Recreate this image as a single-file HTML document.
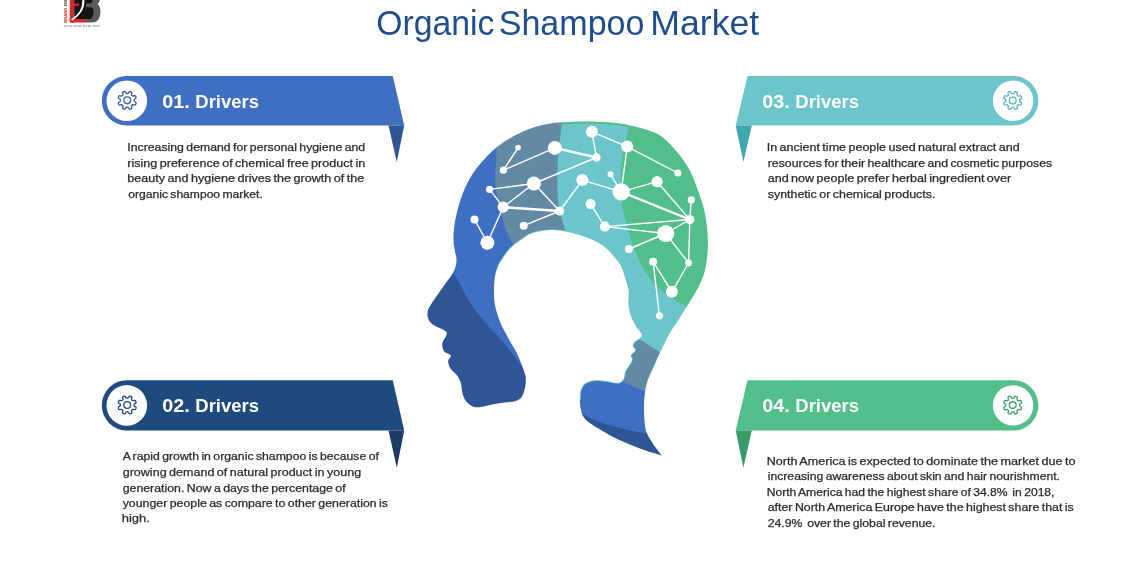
<!DOCTYPE html>
<html><head><meta charset="utf-8"><style>
html,body{margin:0;padding:0;background:#fff;}
body{width:1140px;height:570px;overflow:hidden;position:relative;}
svg{position:absolute;left:0;top:0;will-change:transform;}
text{font-family:"Liberation Sans",sans-serif;}
</style></head><body>
<svg width="1140" height="570" viewBox="0 0 1140 570">
<g>
<rect x="69.7" y="0" width="4.6" height="22.6" fill="#D42A2A"/>
<path d="M74.2,0 H94 V19 H74.2 Z" fill="#141414"/>
<rect x="74" y="3.6" width="5.2" height="2.2" fill="#D42A2A"/>
<path d="M69.7,18.9 H86 V22.6 H72 Q69.7,22.6 69.7,20.5 Z" fill="#D42A2A"/>
<path d="M86,18.9 H92 Q98,18.6 98.5,11 Q98.6,5 95,3.8 Q98,2 98,0 H92.5 Q93,2.5 90.5,3.6 H86 V7.2 H91 Q93.6,8 93.6,12 Q93,18 90,18.9 Z" fill="#5a5a5a"/>
<path d="M86,18.9 V22.6 H92 Q100.5,22.3 100.5,11.5 Q100.2,5.5 97.5,4 Q99.8,2 99.8,0 H95 Q95,2.5 92,3.6 Q97,5 96.7,11.5 Q96.5,18.6 91.5,18.9 Z" fill="#5a5a5a"/>
<path d="M82.3,0 Q83,12 71,19.5 L72.5,20.5 Q85.2,12 84.6,0 Z" fill="#fff"/>
<text x="0" y="0" font-size="3.6" fill="#D42A2A" font-weight="bold" transform="translate(67.3,22.8) rotate(-90)" textLength="15" lengthAdjust="spacingAndGlyphs">BRAND</text>
<text x="0" y="0" font-size="3.6" fill="#222" font-weight="bold" transform="translate(67.3,6.2) rotate(-90)" textLength="6.2" lengthAdjust="spacingAndGlyphs">ESS</text>
<line x1="63.8" y1="26" x2="99.6" y2="26" stroke="#6a6a6a" stroke-width="0.9" stroke-dasharray="2.2,0.6,1.4,0.8,3,1.6"/>
</g>
<path d="M126.55,76.00 H392.8 L404.2,125.50 H126.55 A24.75,24.75 0 0 1 126.55,76.00 Z" fill="#3F6FC3"/>
<path d="M388.5,125.50 L404.2,125.50 L396.8,161.90 Z" fill="#2F5597"/>
<circle cx="126.8" cy="100.75" r="20.3" fill="#fff"/>
<path d="M134.05,100.35 L134.05,100.62 L134.07,100.89 L134.15,101.17 L134.45,101.50 L135.14,101.93 L135.81,102.42 L136.06,102.85 L136.05,103.23 L135.97,103.58 L135.84,103.93 L135.68,104.26 L135.50,104.58 L135.23,104.85 L134.75,104.98 L133.93,104.85 L133.14,104.67 L132.70,104.68 L132.44,104.82 L132.24,105.00 L132.04,105.19 L131.85,105.39 L131.67,105.59 L131.53,105.85 L131.52,106.29 L131.70,107.08 L131.83,107.90 L131.70,108.38 L131.43,108.65 L131.11,108.83 L130.78,108.99 L130.43,109.12 L130.08,109.20 L129.70,109.21 L129.27,108.96 L128.78,108.29 L128.35,107.60 L128.02,107.30 L127.74,107.22 L127.47,107.20 L127.20,107.20 L126.93,107.20 L126.66,107.22 L126.38,107.30 L126.05,107.60 L125.62,108.29 L125.13,108.96 L124.70,109.21 L124.32,109.20 L123.97,109.12 L123.62,108.99 L123.29,108.83 L122.97,108.65 L122.70,108.38 L122.57,107.90 L122.70,107.08 L122.88,106.29 L122.87,105.85 L122.73,105.59 L122.55,105.39 L122.36,105.19 L122.16,105.00 L121.96,104.82 L121.70,104.68 L121.26,104.67 L120.47,104.85 L119.65,104.98 L119.17,104.85 L118.90,104.58 L118.72,104.26 L118.56,103.93 L118.43,103.58 L118.35,103.23 L118.34,102.85 L118.59,102.42 L119.26,101.93 L119.95,101.50 L120.25,101.17 L120.33,100.89 L120.35,100.62 L120.35,100.35 L120.35,100.08 L120.33,99.81 L120.25,99.53 L119.95,99.20 L119.26,98.77 L118.59,98.28 L118.34,97.85 L118.35,97.47 L118.43,97.12 L118.56,96.77 L118.72,96.44 L118.90,96.12 L119.17,95.85 L119.65,95.72 L120.47,95.85 L121.26,96.03 L121.70,96.02 L121.96,95.88 L122.16,95.70 L122.36,95.51 L122.55,95.31 L122.73,95.11 L122.87,94.85 L122.88,94.41 L122.70,93.62 L122.57,92.80 L122.70,92.32 L122.97,92.05 L123.29,91.87 L123.62,91.71 L123.97,91.58 L124.32,91.50 L124.70,91.49 L125.13,91.74 L125.62,92.41 L126.05,93.10 L126.38,93.40 L126.66,93.48 L126.93,93.50 L127.20,93.50 L127.47,93.50 L127.74,93.48 L128.02,93.40 L128.35,93.10 L128.78,92.41 L129.27,91.74 L129.70,91.49 L130.08,91.50 L130.43,91.58 L130.78,91.71 L131.11,91.87 L131.43,92.05 L131.70,92.32 L131.83,92.80 L131.70,93.62 L131.52,94.41 L131.53,94.85 L131.67,95.11 L131.85,95.31 L132.04,95.51 L132.24,95.70 L132.44,95.88 L132.70,96.02 L133.14,96.03 L133.93,95.85 L134.75,95.72 L135.23,95.85 L135.50,96.12 L135.68,96.44 L135.84,96.77 L135.97,97.12 L136.05,97.47 L136.06,97.85 L135.81,98.28 L135.14,98.77 L134.45,99.20 L134.15,99.53 L134.07,99.81 L134.05,100.08 Z" fill="none" stroke="#3A5F9F" stroke-width="1.35" stroke-linejoin="round"/><circle cx="127.2" cy="100.3" r="3.4" fill="none" stroke="#3A5F9F" stroke-width="1.35"/>
<path d="M127.00,380.20 H392.8 L404.2,430.60 H127.00 A25.20,25.20 0 0 1 127.00,380.20 Z" fill="#1F4A7D"/>
<path d="M388.5,430.60 L404.2,430.60 L396.8,467.80 Z" fill="#1B3A66"/>
<circle cx="126.8" cy="405.40" r="20.3" fill="#fff"/>
<path d="M134.05,405.00 L134.05,405.27 L134.07,405.54 L134.15,405.82 L134.45,406.15 L135.14,406.58 L135.81,407.07 L136.06,407.50 L136.05,407.88 L135.97,408.23 L135.84,408.58 L135.68,408.91 L135.50,409.23 L135.23,409.50 L134.75,409.63 L133.93,409.50 L133.14,409.32 L132.70,409.33 L132.44,409.47 L132.24,409.65 L132.04,409.84 L131.85,410.04 L131.67,410.24 L131.53,410.50 L131.52,410.94 L131.70,411.73 L131.83,412.55 L131.70,413.03 L131.43,413.30 L131.11,413.48 L130.78,413.64 L130.43,413.77 L130.08,413.85 L129.70,413.86 L129.27,413.61 L128.78,412.94 L128.35,412.25 L128.02,411.95 L127.74,411.87 L127.47,411.85 L127.20,411.85 L126.93,411.85 L126.66,411.87 L126.38,411.95 L126.05,412.25 L125.62,412.94 L125.13,413.61 L124.70,413.86 L124.32,413.85 L123.97,413.77 L123.62,413.64 L123.29,413.48 L122.97,413.30 L122.70,413.03 L122.57,412.55 L122.70,411.73 L122.88,410.94 L122.87,410.50 L122.73,410.24 L122.55,410.04 L122.36,409.84 L122.16,409.65 L121.96,409.47 L121.70,409.33 L121.26,409.32 L120.47,409.50 L119.65,409.63 L119.17,409.50 L118.90,409.23 L118.72,408.91 L118.56,408.58 L118.43,408.23 L118.35,407.88 L118.34,407.50 L118.59,407.07 L119.26,406.58 L119.95,406.15 L120.25,405.82 L120.33,405.54 L120.35,405.27 L120.35,405.00 L120.35,404.73 L120.33,404.46 L120.25,404.18 L119.95,403.85 L119.26,403.42 L118.59,402.93 L118.34,402.50 L118.35,402.12 L118.43,401.77 L118.56,401.42 L118.72,401.09 L118.90,400.77 L119.17,400.50 L119.65,400.37 L120.47,400.50 L121.26,400.68 L121.70,400.67 L121.96,400.53 L122.16,400.35 L122.36,400.16 L122.55,399.96 L122.73,399.76 L122.87,399.50 L122.88,399.06 L122.70,398.27 L122.57,397.45 L122.70,396.97 L122.97,396.70 L123.29,396.52 L123.62,396.36 L123.97,396.23 L124.32,396.15 L124.70,396.14 L125.13,396.39 L125.62,397.06 L126.05,397.75 L126.38,398.05 L126.66,398.13 L126.93,398.15 L127.20,398.15 L127.47,398.15 L127.74,398.13 L128.02,398.05 L128.35,397.75 L128.78,397.06 L129.27,396.39 L129.70,396.14 L130.08,396.15 L130.43,396.23 L130.78,396.36 L131.11,396.52 L131.43,396.70 L131.70,396.97 L131.83,397.45 L131.70,398.27 L131.52,399.06 L131.53,399.50 L131.67,399.76 L131.85,399.96 L132.04,400.16 L132.24,400.35 L132.44,400.53 L132.70,400.67 L133.14,400.68 L133.93,400.50 L134.75,400.37 L135.23,400.50 L135.50,400.77 L135.68,401.09 L135.84,401.42 L135.97,401.77 L136.05,402.12 L136.06,402.50 L135.81,402.93 L135.14,403.42 L134.45,403.85 L134.15,404.18 L134.07,404.46 L134.05,404.73 Z" fill="none" stroke="#23497F" stroke-width="1.35" stroke-linejoin="round"/><circle cx="127.2" cy="405.0" r="3.4" fill="none" stroke="#23497F" stroke-width="1.35"/>
<path d="M747.5,76.00 H1013.65 A24.75,24.75 0 0 1 1013.65,125.50 H735.7 Z" fill="#6CC5CB"/>
<path d="M735.7,125.50 L751.8,125.50 L743.4,162.10 Z" fill="#3DA7B0"/>
<circle cx="1013.1" cy="100.75" r="20.2" fill="#fff"/>
<path d="M1019.55,100.45 L1019.55,100.72 L1019.57,100.99 L1019.65,101.27 L1019.95,101.60 L1020.64,102.03 L1021.31,102.52 L1021.56,102.95 L1021.55,103.33 L1021.47,103.68 L1021.34,104.03 L1021.18,104.36 L1021.00,104.68 L1020.73,104.95 L1020.25,105.08 L1019.43,104.95 L1018.64,104.77 L1018.20,104.78 L1017.94,104.92 L1017.74,105.10 L1017.54,105.29 L1017.35,105.49 L1017.17,105.69 L1017.03,105.95 L1017.02,106.39 L1017.20,107.18 L1017.33,108.00 L1017.20,108.48 L1016.93,108.75 L1016.61,108.93 L1016.28,109.09 L1015.93,109.22 L1015.58,109.30 L1015.20,109.31 L1014.77,109.06 L1014.28,108.39 L1013.85,107.70 L1013.52,107.40 L1013.24,107.32 L1012.97,107.30 L1012.70,107.30 L1012.43,107.30 L1012.16,107.32 L1011.88,107.40 L1011.55,107.70 L1011.12,108.39 L1010.63,109.06 L1010.20,109.31 L1009.82,109.30 L1009.47,109.22 L1009.12,109.09 L1008.79,108.93 L1008.47,108.75 L1008.20,108.48 L1008.07,108.00 L1008.20,107.18 L1008.38,106.39 L1008.37,105.95 L1008.23,105.69 L1008.05,105.49 L1007.86,105.29 L1007.66,105.10 L1007.46,104.92 L1007.20,104.78 L1006.76,104.77 L1005.97,104.95 L1005.15,105.08 L1004.67,104.95 L1004.40,104.68 L1004.22,104.36 L1004.06,104.03 L1003.93,103.68 L1003.85,103.33 L1003.84,102.95 L1004.09,102.52 L1004.76,102.03 L1005.45,101.60 L1005.75,101.27 L1005.83,100.99 L1005.85,100.72 L1005.85,100.45 L1005.85,100.18 L1005.83,99.91 L1005.75,99.63 L1005.45,99.30 L1004.76,98.87 L1004.09,98.38 L1003.84,97.95 L1003.85,97.57 L1003.93,97.22 L1004.06,96.87 L1004.22,96.54 L1004.40,96.22 L1004.67,95.95 L1005.15,95.82 L1005.97,95.95 L1006.76,96.13 L1007.20,96.12 L1007.46,95.98 L1007.66,95.80 L1007.86,95.61 L1008.05,95.41 L1008.23,95.21 L1008.37,94.95 L1008.38,94.51 L1008.20,93.72 L1008.07,92.90 L1008.20,92.42 L1008.47,92.15 L1008.79,91.97 L1009.12,91.81 L1009.47,91.68 L1009.82,91.60 L1010.20,91.59 L1010.63,91.84 L1011.12,92.51 L1011.55,93.20 L1011.88,93.50 L1012.16,93.58 L1012.43,93.60 L1012.70,93.60 L1012.97,93.60 L1013.24,93.58 L1013.52,93.50 L1013.85,93.20 L1014.28,92.51 L1014.77,91.84 L1015.20,91.59 L1015.58,91.60 L1015.93,91.68 L1016.28,91.81 L1016.61,91.97 L1016.93,92.15 L1017.20,92.42 L1017.33,92.90 L1017.20,93.72 L1017.02,94.51 L1017.03,94.95 L1017.17,95.21 L1017.35,95.41 L1017.54,95.61 L1017.74,95.80 L1017.94,95.98 L1018.20,96.12 L1018.64,96.13 L1019.43,95.95 L1020.25,95.82 L1020.73,95.95 L1021.00,96.22 L1021.18,96.54 L1021.34,96.87 L1021.47,97.22 L1021.55,97.57 L1021.56,97.95 L1021.31,98.38 L1020.64,98.87 L1019.95,99.30 L1019.65,99.63 L1019.57,99.91 L1019.55,100.18 Z" fill="none" stroke="#5BB7BF" stroke-width="1.35" stroke-linejoin="round"/><circle cx="1012.7" cy="100.5" r="3.4" fill="none" stroke="#5BB7BF" stroke-width="1.35"/>
<path d="M747.5,380.20 H1013.20 A25.20,25.20 0 0 1 1013.20,430.60 H735.7 Z" fill="#52BE89"/>
<path d="M735.7,430.60 L751.8,430.60 L743.4,467.80 Z" fill="#3A9A6A"/>
<circle cx="1013.1" cy="405.40" r="20.2" fill="#fff"/>
<path d="M1019.55,405.10 L1019.55,405.37 L1019.57,405.64 L1019.65,405.92 L1019.95,406.25 L1020.64,406.68 L1021.31,407.17 L1021.56,407.60 L1021.55,407.98 L1021.47,408.33 L1021.34,408.68 L1021.18,409.01 L1021.00,409.33 L1020.73,409.60 L1020.25,409.73 L1019.43,409.60 L1018.64,409.42 L1018.20,409.43 L1017.94,409.57 L1017.74,409.75 L1017.54,409.94 L1017.35,410.14 L1017.17,410.34 L1017.03,410.60 L1017.02,411.04 L1017.20,411.83 L1017.33,412.65 L1017.20,413.13 L1016.93,413.40 L1016.61,413.58 L1016.28,413.74 L1015.93,413.87 L1015.58,413.95 L1015.20,413.96 L1014.77,413.71 L1014.28,413.04 L1013.85,412.35 L1013.52,412.05 L1013.24,411.97 L1012.97,411.95 L1012.70,411.95 L1012.43,411.95 L1012.16,411.97 L1011.88,412.05 L1011.55,412.35 L1011.12,413.04 L1010.63,413.71 L1010.20,413.96 L1009.82,413.95 L1009.47,413.87 L1009.12,413.74 L1008.79,413.58 L1008.47,413.40 L1008.20,413.13 L1008.07,412.65 L1008.20,411.83 L1008.38,411.04 L1008.37,410.60 L1008.23,410.34 L1008.05,410.14 L1007.86,409.94 L1007.66,409.75 L1007.46,409.57 L1007.20,409.43 L1006.76,409.42 L1005.97,409.60 L1005.15,409.73 L1004.67,409.60 L1004.40,409.33 L1004.22,409.01 L1004.06,408.68 L1003.93,408.33 L1003.85,407.98 L1003.84,407.60 L1004.09,407.17 L1004.76,406.68 L1005.45,406.25 L1005.75,405.92 L1005.83,405.64 L1005.85,405.37 L1005.85,405.10 L1005.85,404.83 L1005.83,404.56 L1005.75,404.28 L1005.45,403.95 L1004.76,403.52 L1004.09,403.03 L1003.84,402.60 L1003.85,402.22 L1003.93,401.87 L1004.06,401.52 L1004.22,401.19 L1004.40,400.87 L1004.67,400.60 L1005.15,400.47 L1005.97,400.60 L1006.76,400.78 L1007.20,400.77 L1007.46,400.63 L1007.66,400.45 L1007.86,400.26 L1008.05,400.06 L1008.23,399.86 L1008.37,399.60 L1008.38,399.16 L1008.20,398.37 L1008.07,397.55 L1008.20,397.07 L1008.47,396.80 L1008.79,396.62 L1009.12,396.46 L1009.47,396.33 L1009.82,396.25 L1010.20,396.24 L1010.63,396.49 L1011.12,397.16 L1011.55,397.85 L1011.88,398.15 L1012.16,398.23 L1012.43,398.25 L1012.70,398.25 L1012.97,398.25 L1013.24,398.23 L1013.52,398.15 L1013.85,397.85 L1014.28,397.16 L1014.77,396.49 L1015.20,396.24 L1015.58,396.25 L1015.93,396.33 L1016.28,396.46 L1016.61,396.62 L1016.93,396.80 L1017.20,397.07 L1017.33,397.55 L1017.20,398.37 L1017.02,399.16 L1017.03,399.60 L1017.17,399.86 L1017.35,400.06 L1017.54,400.26 L1017.74,400.45 L1017.94,400.63 L1018.20,400.77 L1018.64,400.78 L1019.43,400.60 L1020.25,400.47 L1020.73,400.60 L1021.00,400.87 L1021.18,401.19 L1021.34,401.52 L1021.47,401.87 L1021.55,402.22 L1021.56,402.60 L1021.31,403.03 L1020.64,403.52 L1019.95,403.95 L1019.65,404.28 L1019.57,404.56 L1019.55,404.83 Z" fill="none" stroke="#3E9F6F" stroke-width="1.35" stroke-linejoin="round"/><circle cx="1012.7" cy="405.1" r="3.4" fill="none" stroke="#3E9F6F" stroke-width="1.35"/>
<mask id="hc" maskUnits="userSpaceOnUse" x="0" y="0" width="1140" height="570"><path d="M525.8,376.2 C525.7,377.9 526.0,383.1 525.3,386.5 C524.6,389.9 523.5,394.3 521.8,396.8 C520.1,399.3 517.9,400.4 515.0,401.3 C512.1,402.2 508.3,402.0 504.7,402.5 C501.1,403.0 497.3,403.4 493.3,404.2 C489.3,404.9 484.2,406.6 480.8,407.0 C477.4,407.4 475.3,407.3 472.8,406.4 C470.3,405.4 467.7,403.5 466.0,401.3 C464.3,399.1 463.4,396.3 462.5,393.3 C461.6,390.3 461.8,386.1 460.8,383.1 C459.9,380.1 458.5,377.5 456.8,375.1 C455.1,372.7 451.9,370.9 450.5,368.5 C449.1,366.1 448.0,363.2 448.1,361.0 C448.2,358.8 451.6,357.0 450.9,355.4 C450.2,353.8 445.3,353.3 443.9,351.2 C442.5,349.1 442.0,345.6 442.5,342.8 C443.0,340.0 446.5,336.4 446.7,334.3 C446.9,332.2 446.2,331.7 443.9,330.1 C441.6,328.5 435.4,326.6 432.7,324.5 C430.0,322.4 428.6,320.1 427.9,317.5 C427.2,314.9 427.1,312.3 428.4,309.0 C429.7,305.7 432.7,302.0 435.5,297.8 C438.3,293.6 442.4,287.9 445.3,283.7 C448.2,279.5 451.3,276.2 453.2,272.5 C455.1,268.8 456.2,264.9 456.5,261.2 C456.8,257.4 455.2,253.5 454.7,250.0 C454.2,246.5 453.5,244.5 453.5,240.0 C453.5,235.5 453.5,230.1 454.7,223.2 C455.9,216.3 458.4,206.0 460.9,198.6 C463.4,191.2 466.2,184.8 469.5,179.0 C472.8,173.2 476.0,168.8 480.5,163.5 C485.0,158.2 490.7,152.1 496.3,147.5 C501.9,142.9 508.0,139.2 513.9,136.0 C519.8,132.8 525.6,130.2 531.4,128.2 C537.2,126.2 543.8,124.8 548.9,123.8 C554.0,122.8 556.1,122.6 562.1,122.2 C568.1,121.8 577.1,121.4 584.8,121.4 C592.5,121.4 601.1,121.7 608.5,122.3 C615.9,122.9 620.8,123.3 629.0,125.3 C637.2,127.2 649.8,129.9 657.5,134.0 C665.2,138.1 669.8,144.0 675.1,149.8 C680.4,155.7 685.3,162.4 689.1,169.1 C692.9,175.8 695.4,183.4 697.9,190.2 C700.4,197.0 702.6,203.2 704.2,210.0 C705.8,216.8 706.8,224.0 707.4,231.0 C708.0,238.0 708.1,245.0 707.6,252.0 C707.1,259.0 706.0,266.9 704.2,273.2 C702.4,279.5 699.9,284.0 696.8,290.0 C693.6,296.0 688.4,304.0 685.3,309.0 C682.2,314.0 681.1,315.8 678.4,320.0 C675.7,324.2 672.3,328.6 669.3,334.0 C666.3,339.4 662.7,347.2 660.2,352.3 C657.7,357.4 656.5,360.5 654.5,364.9 C652.5,369.3 649.7,374.7 648.2,378.9 C646.7,383.1 646.1,385.6 645.4,390.1 C644.7,394.6 644.0,399.5 644.0,406.0 C644.0,412.5 644.3,423.1 645.7,429.2 C647.1,435.3 649.8,438.5 652.5,442.9 C655.2,447.3 660.2,453.3 661.7,455.4 C658.7,454.4 649.3,451.8 643.4,449.7 C637.5,447.6 632.0,445.4 626.3,442.9 C620.6,440.4 614.9,437.9 609.2,434.9 C603.5,431.8 596.3,427.5 592.1,424.6 C587.9,421.8 586.0,420.5 584.1,417.8 C582.2,415.1 581.4,411.7 580.7,408.7 C580.0,405.7 580.0,402.6 579.9,400.0 C579.8,397.4 579.9,395.1 580.2,393.0 C580.5,390.9 580.7,389.4 581.7,387.7 C582.7,386.0 583.9,384.0 586.0,382.8 C588.1,381.6 591.3,380.6 594.6,380.3 C597.9,380.0 602.2,380.5 605.7,380.9 C609.2,381.3 613.0,382.6 615.5,382.8 C618.0,383.0 619.0,383.0 620.4,382.2 C621.8,381.4 623.2,379.6 624.0,377.9 C624.8,376.1 624.4,373.8 625.2,371.7 C626.0,369.6 627.9,367.6 629.0,365.6 C630.1,363.6 631.7,361.2 632.0,359.5 C632.3,357.8 630.3,356.7 630.8,355.2 C631.3,353.7 634.9,351.8 635.2,350.3 C635.5,348.8 632.8,347.4 632.7,346.0 C632.6,344.6 633.0,343.8 634.5,342.0 C636.0,340.2 641.7,338.0 642.0,335.5 C642.3,333.0 638.4,330.3 636.5,327.0 C634.6,323.7 632.1,319.4 630.8,315.6 C629.5,311.8 628.9,307.9 628.5,304.0 C628.1,300.1 629.0,295.7 628.7,292.0 C628.4,288.3 627.7,286.2 626.5,282.0 C625.3,277.8 623.3,270.9 621.5,267.0 C619.7,263.1 618.7,262.0 615.5,258.4 C612.3,254.8 607.9,249.0 602.4,245.3 C596.9,241.6 590.3,238.5 582.6,236.0 C574.9,233.5 564.7,230.7 556.3,230.2 C547.9,229.7 538.1,231.6 532.4,233.2 C526.6,234.8 525.3,237.1 521.8,239.5 C518.3,241.9 514.3,244.5 511.3,247.4 C508.3,250.3 506.2,253.5 503.9,256.8 C501.6,260.1 499.2,263.5 497.6,267.4 C496.0,271.3 495.0,274.2 494.5,280.0 C494.0,285.8 493.6,295.3 494.5,302.1 C495.4,308.9 497.4,315.0 499.7,321.0 C502.0,327.0 505.4,332.6 508.2,337.9 C511.0,343.2 514.1,347.6 516.6,352.6 C519.1,357.7 521.5,364.3 523.0,368.2 C524.5,372.1 525.3,374.9 525.8,376.2 Z" fill="#fff"/></mask>
<clipPath id="topstrip"><path d="M560,100 L562.5,100 L561.5,135 L640,135 L640,100 Z"/></clipPath>
<g mask="url(#hc)">
<rect x="400" y="100" width="330" height="380" fill="#3F6FC3"/>
<path d="M440.0,255.0 C442.2,257.9 449.1,265.8 453.4,272.6 C457.7,279.4 461.8,288.8 466.0,295.8 C470.2,302.8 474.1,308.7 478.7,314.7 C483.3,320.7 488.5,326.0 493.4,331.6 C498.3,337.2 503.3,342.4 508.2,348.4 C513.1,354.4 518.9,361.8 522.9,367.4 C526.9,373.0 530.5,379.6 532.0,382.0 L540.0,430.0 L400.0,430.0 L400.0,255.0 Z" fill="#2F5597"/>
<path d="M496.0,90.0 C496.1,99.5 496.6,131.8 496.5,147.0 C496.4,162.2 494.9,171.6 495.3,181.4 C495.7,191.2 497.2,197.8 499.0,206.0 C500.8,214.2 503.9,224.0 506.3,230.6 C508.8,237.2 512.5,242.9 513.7,245.3 L560.0,245.0 L560.0,380.0 L590.0,390.0 L720.0,400.0 L720.0,90.0 Z" fill="#628AA4"/>
<path d="M562.0,90.0 C562.0,95.4 562.6,111.4 561.9,122.6 C561.2,133.8 558.6,144.5 558.0,157.4 C557.4,170.3 556.8,187.8 558.0,200.0 C559.2,212.2 564.1,225.4 565.3,230.5 L566.0,242.0 L560.0,300.0 L600.0,335.0 L641.2,340.3 L662.0,353.5 L720.0,358.0 L720.0,90.0 Z" fill="#6CC5CB"/>
<path d="M630.0,90.0 C629.8,95.7 630.3,113.1 629.0,124.2 C627.7,135.3 623.7,145.4 622.4,156.4 C621.1,167.4 620.4,179.1 621.0,190.0 C621.6,200.9 622.9,210.1 626.0,222.0 C629.1,233.9 634.0,250.2 639.5,261.3 C645.0,272.4 651.6,280.9 659.0,288.3 C666.4,295.7 678.2,302.1 683.7,305.5 C689.2,308.9 690.6,308.4 692.0,309.0 L720.0,320.0 L720.0,90.0 Z" fill="#52BE89"/>
<path d="M580.0,381.0 L621.0,381.0 L630.0,385.2 L645.4,391.5 L720.0,402.0 L720.0,470.0 L560.0,470.0 L560.0,381.0 Z" fill="#3F6FC3"/>
<path d="M570.0,408.0 C572.0,408.9 577.2,411.0 581.8,413.2 C586.4,415.4 591.3,418.7 597.8,421.2 C604.3,423.7 612.4,426.0 620.6,428.1 C628.8,430.2 636.9,431.8 646.8,433.8 C656.7,435.8 674.5,439.0 680.0,440.0 L720.0,470.0 L560.0,470.0 Z" fill="#2F5597"/>
<path d="M525.8,376.2 C525.7,377.9 526.0,383.1 525.3,386.5 C524.6,389.9 523.5,394.3 521.8,396.8 C520.1,399.3 517.9,400.4 515.0,401.3 C512.1,402.2 508.3,402.0 504.7,402.5 C501.1,403.0 497.3,403.4 493.3,404.2 C489.3,404.9 484.2,406.6 480.8,407.0 C477.4,407.4 475.3,407.3 472.8,406.4 C470.3,405.4 467.7,403.5 466.0,401.3 C464.3,399.1 463.4,396.3 462.5,393.3 C461.6,390.3 461.8,386.1 460.8,383.1 C459.9,380.1 458.5,377.5 456.8,375.1 C455.1,372.7 451.9,370.9 450.5,368.5 C449.1,366.1 448.0,363.2 448.1,361.0 C448.2,358.8 451.6,357.0 450.9,355.4 C450.2,353.8 445.3,353.3 443.9,351.2 C442.5,349.1 442.0,345.6 442.5,342.8 C443.0,340.0 446.5,336.4 446.7,334.3 C446.9,332.2 446.2,331.7 443.9,330.1 C441.6,328.5 435.4,326.6 432.7,324.5 C430.0,322.4 428.6,320.1 427.9,317.5 C427.2,314.9 427.1,312.3 428.4,309.0 C429.7,305.7 432.7,302.0 435.5,297.8 C438.3,293.6 442.4,287.9 445.3,283.7 C448.2,279.5 451.3,276.2 453.2,272.5 C455.1,268.8 456.2,264.9 456.5,261.2 C456.8,257.4 455.2,253.5 454.7,250.0 C454.2,246.5 453.5,244.5 453.5,240.0 C453.5,235.5 453.5,230.1 454.7,223.2 C455.9,216.3 458.4,206.0 460.9,198.6 C463.4,191.2 466.2,184.8 469.5,179.0 C472.8,173.2 476.0,168.8 480.5,163.5 C485.0,158.2 490.7,152.1 496.3,147.5 C501.9,142.9 508.0,139.2 513.9,136.0 C519.8,132.8 525.6,130.2 531.4,128.2 C537.2,126.2 543.8,124.8 548.9,123.8 C554.0,122.8 556.1,122.6 562.1,122.2 C568.1,121.8 577.1,121.4 584.8,121.4 C592.5,121.4 601.1,121.7 608.5,122.3 C615.9,122.9 620.8,123.3 629.0,125.3 C637.2,127.2 649.8,129.9 657.5,134.0 C665.2,138.1 669.8,144.0 675.1,149.8 C680.4,155.7 685.3,162.4 689.1,169.1 C692.9,175.8 695.4,183.4 697.9,190.2 C700.4,197.0 702.6,203.2 704.2,210.0 C705.8,216.8 706.8,224.0 707.4,231.0 C708.0,238.0 708.1,245.0 707.6,252.0 C707.1,259.0 706.0,266.9 704.2,273.2 C702.4,279.5 699.9,284.0 696.8,290.0 C693.6,296.0 688.4,304.0 685.3,309.0 C682.2,314.0 681.1,315.8 678.4,320.0 C675.7,324.2 672.3,328.6 669.3,334.0 C666.3,339.4 662.7,347.2 660.2,352.3 C657.7,357.4 656.5,360.5 654.5,364.9 C652.5,369.3 649.7,374.7 648.2,378.9 C646.7,383.1 646.1,385.6 645.4,390.1 C644.7,394.6 644.0,399.5 644.0,406.0 C644.0,412.5 644.3,423.1 645.7,429.2 C647.1,435.3 649.8,438.5 652.5,442.9 C655.2,447.3 660.2,453.3 661.7,455.4 C658.7,454.4 649.3,451.8 643.4,449.7 C637.5,447.6 632.0,445.4 626.3,442.9 C620.6,440.4 614.9,437.9 609.2,434.9 C603.5,431.8 596.3,427.5 592.1,424.6 C587.9,421.8 586.0,420.5 584.1,417.8 C582.2,415.1 581.4,411.7 580.7,408.7 C580.0,405.7 580.0,402.6 579.9,400.0 C579.8,397.4 579.9,395.1 580.2,393.0 C580.5,390.9 580.7,389.4 581.7,387.7 C582.7,386.0 583.9,384.0 586.0,382.8 C588.1,381.6 591.3,380.6 594.6,380.3 C597.9,380.0 602.2,380.5 605.7,380.9 C609.2,381.3 613.0,382.6 615.5,382.8 C618.0,383.0 619.0,383.0 620.4,382.2 C621.8,381.4 623.2,379.6 624.0,377.9 C624.8,376.1 624.4,373.8 625.2,371.7 C626.0,369.6 627.9,367.6 629.0,365.6 C630.1,363.6 631.7,361.2 632.0,359.5 C632.3,357.8 630.3,356.7 630.8,355.2 C631.3,353.7 634.9,351.8 635.2,350.3 C635.5,348.8 632.8,347.4 632.7,346.0 C632.6,344.6 633.0,343.8 634.5,342.0 C636.0,340.2 641.7,338.0 642.0,335.5 C642.3,333.0 638.4,330.3 636.5,327.0 C634.6,323.7 632.1,319.4 630.8,315.6 C629.5,311.8 628.9,307.9 628.5,304.0 C628.1,300.1 629.0,295.7 628.7,292.0 C628.4,288.3 627.7,286.2 626.5,282.0 C625.3,277.8 623.3,270.9 621.5,267.0 C619.7,263.1 618.7,262.0 615.5,258.4 C612.3,254.8 607.9,249.0 602.4,245.3 C596.9,241.6 590.3,238.5 582.6,236.0 C574.9,233.5 564.7,230.7 556.3,230.2 C547.9,229.7 538.1,231.6 532.4,233.2 C526.6,234.8 525.3,237.1 521.8,239.5 C518.3,241.9 514.3,244.5 511.3,247.4 C508.3,250.3 506.2,253.5 503.9,256.8 C501.6,260.1 499.2,263.5 497.6,267.4 C496.0,271.3 495.0,274.2 494.5,280.0 C494.0,285.8 493.6,295.3 494.5,302.1 C495.4,308.9 497.4,315.0 499.7,321.0 C502.0,327.0 505.4,332.6 508.2,337.9 C511.0,343.2 514.1,347.6 516.6,352.6 C519.1,357.7 521.5,364.3 523.0,368.2 C524.5,372.1 525.3,374.9 525.8,376.2 Z" fill="none" stroke="#52BE89" stroke-width="4" clip-path="url(#topstrip)"/>
<path d="M579.9,400.0 C580.0,398.8 579.9,395.1 580.2,393.0 C580.5,390.9 580.7,389.4 581.7,387.7 C582.7,386.0 583.9,384.0 586.0,382.8 C588.1,381.6 591.3,380.6 594.6,380.3 C597.9,380.0 602.2,380.5 605.7,380.9 C609.2,381.3 613.0,382.6 615.5,382.8 C618.0,383.0 619.0,383.0 620.4,382.2 C621.8,381.4 623.2,379.6 624.0,377.9 C624.8,376.1 624.4,373.8 625.2,371.7 C626.0,369.6 627.9,367.6 629.0,365.6 C630.1,363.6 631.7,361.2 632.0,359.5 C632.3,357.8 630.3,356.7 630.8,355.2 C631.3,353.7 634.9,351.8 635.2,350.3 C635.5,348.8 632.8,347.4 632.7,346.0 C632.6,344.6 633.0,343.8 634.5,342.0 C636.0,340.2 641.7,338.0 642.0,335.5 C642.3,333.0 638.4,330.3 636.5,327.0 C634.6,323.7 632.1,319.4 630.8,315.6 C629.5,311.8 628.9,307.9 628.5,304.0 C628.1,300.1 629.0,295.7 628.7,292.0 C628.4,288.3 627.7,286.2 626.5,282.0 C625.3,277.8 622.3,269.5 621.5,267.0" fill="none" stroke="#5FC0C4" stroke-width="1.8"/>
<path d="M602.4,245.3 C599.1,243.8 590.3,238.5 582.6,236.0 C574.9,233.5 564.7,230.7 556.3,230.2 C547.9,229.7 538.1,231.6 532.4,233.2 C526.6,234.8 525.3,237.1 521.8,239.5 C518.3,241.9 514.3,244.5 511.3,247.4 C508.3,250.3 506.2,253.5 503.9,256.8 C501.6,260.1 498.7,265.6 497.6,267.4" fill="none" stroke="#6CC5CB" stroke-width="1.6"/>
</g>
<g stroke="#fff" stroke-linecap="round">
<line x1="518.1" y1="147.6" x2="503.4" y2="170.2" stroke-width="1.4"/>
<line x1="503.4" y1="170.2" x2="554.8" y2="147.9" stroke-width="1.4"/>
<line x1="591.9" y1="131.8" x2="596.5" y2="157.5" stroke-width="1.4"/>
<line x1="591.9" y1="131.8" x2="627.2" y2="146.6" stroke-width="1.4"/>
<line x1="627.2" y1="146.6" x2="677.8" y2="173.0" stroke-width="1.4"/>
<line x1="627.2" y1="146.6" x2="621.2" y2="191.8" stroke-width="1.4"/>
<line x1="596.5" y1="157.5" x2="533.9" y2="183.5" stroke-width="1.4"/>
<line x1="489.6" y1="189.4" x2="533.9" y2="183.5" stroke-width="1.4"/>
<line x1="533.9" y1="183.5" x2="503.2" y2="207.1" stroke-width="1.4"/>
<line x1="533.9" y1="183.5" x2="559.7" y2="211.0" stroke-width="1.4"/>
<line x1="489.6" y1="189.4" x2="503.2" y2="207.1" stroke-width="1.4"/>
<line x1="503.2" y1="207.1" x2="487.4" y2="242.8" stroke-width="1.4"/>
<line x1="474.5" y1="219.5" x2="487.4" y2="242.8" stroke-width="1.4"/>
<line x1="523.7" y1="225.7" x2="559.7" y2="211.0" stroke-width="1.4"/>
<line x1="582.4" y1="180.1" x2="559.7" y2="211.0" stroke-width="1.4"/>
<line x1="582.4" y1="180.1" x2="621.2" y2="191.8" stroke-width="1.4"/>
<line x1="610.5" y1="174.3" x2="621.2" y2="191.8" stroke-width="1.4"/>
<line x1="621.2" y1="191.8" x2="657.1" y2="181.7" stroke-width="1.4"/>
<line x1="657.1" y1="181.7" x2="689.8" y2="219.5" stroke-width="1.4"/>
<line x1="691.3" y1="199.9" x2="689.8" y2="219.5" stroke-width="1.4"/>
<line x1="590.6" y1="204.1" x2="604.9" y2="226.6" stroke-width="1.4"/>
<line x1="604.9" y1="226.6" x2="689.8" y2="219.5" stroke-width="1.4"/>
<line x1="604.9" y1="226.6" x2="665.7" y2="233.5" stroke-width="1.4"/>
<line x1="665.7" y1="233.5" x2="689.8" y2="219.5" stroke-width="1.4"/>
<line x1="628.9" y1="249.0" x2="665.7" y2="233.5" stroke-width="1.4"/>
<line x1="689.8" y1="219.5" x2="688.6" y2="263.0" stroke-width="1.4"/>
<line x1="665.7" y1="233.5" x2="688.6" y2="263.0" stroke-width="1.4"/>
<line x1="653.1" y1="261.7" x2="671.9" y2="291.8" stroke-width="1.4"/>
<line x1="653.1" y1="261.7" x2="659.4" y2="315.7" stroke-width="1.4"/>
<line x1="688.6" y1="263.0" x2="671.9" y2="291.8" stroke-width="1.4"/>
<line x1="554.8" y1="147.9" x2="596.5" y2="157.5" stroke-width="2.4"/>
<line x1="503.2" y1="207.1" x2="559.7" y2="211.0" stroke-width="2.4"/>
<line x1="621.2" y1="191.8" x2="689.8" y2="219.5" stroke-width="2.4"/>
</g><g fill="#fff">
<circle cx="518.1" cy="147.6" r="2.8"/>
<circle cx="503.4" cy="170.2" r="3.6"/>
<circle cx="554.8" cy="147.9" r="7.0"/>
<circle cx="591.9" cy="131.8" r="6.0"/>
<circle cx="596.5" cy="157.5" r="4.2"/>
<circle cx="627.2" cy="146.6" r="6.0"/>
<circle cx="677.8" cy="173.0" r="3.6"/>
<circle cx="533.9" cy="183.5" r="7.0"/>
<circle cx="489.6" cy="189.4" r="3.6"/>
<circle cx="582.4" cy="180.1" r="6.0"/>
<circle cx="610.5" cy="174.3" r="3.0"/>
<circle cx="621.2" cy="191.8" r="8.6"/>
<circle cx="657.1" cy="181.7" r="5.6"/>
<circle cx="691.3" cy="199.9" r="3.6"/>
<circle cx="689.8" cy="219.5" r="4.6"/>
<circle cx="503.2" cy="207.1" r="5.6"/>
<circle cx="559.7" cy="211.0" r="4.5"/>
<circle cx="523.7" cy="225.7" r="4.0"/>
<circle cx="474.5" cy="219.5" r="4.0"/>
<circle cx="487.4" cy="242.8" r="7.0"/>
<circle cx="590.6" cy="204.1" r="5.0"/>
<circle cx="604.9" cy="226.6" r="5.0"/>
<circle cx="665.7" cy="233.5" r="8.6"/>
<circle cx="628.9" cy="249.0" r="4.0"/>
<circle cx="653.1" cy="261.7" r="4.0"/>
<circle cx="688.6" cy="263.0" r="3.4"/>
<circle cx="671.9" cy="291.8" r="6.0"/>
<circle cx="659.4" cy="315.7" r="3.5"/>
</g>
<text x="376.20" y="34.60" textLength="118.30" lengthAdjust="spacingAndGlyphs" font-size="35.80" fill="#1F4E8A" font-weight="normal" word-spacing="0.00">Organic</text>
<text x="498.70" y="34.60" textLength="145.80" lengthAdjust="spacingAndGlyphs" font-size="35.80" fill="#1F4E8A" font-weight="normal" word-spacing="0.00">Shampoo</text>
<text x="650.20" y="34.60" textLength="109.10" lengthAdjust="spacingAndGlyphs" font-size="35.80" fill="#1F4E8A" font-weight="normal" word-spacing="0.00">Market</text>
<text x="162.20" y="107.70" textLength="27.50" lengthAdjust="spacingAndGlyphs" font-size="18.30" fill="#fff" font-weight="bold" word-spacing="0.00">01.</text>
<text x="195.30" y="107.70" textLength="63.70" lengthAdjust="spacingAndGlyphs" font-size="18.30" fill="#fff" font-weight="bold" word-spacing="0.00">Drivers</text>
<text x="162.20" y="412.00" textLength="27.50" lengthAdjust="spacingAndGlyphs" font-size="18.30" fill="#fff" font-weight="bold" word-spacing="0.00">02.</text>
<text x="195.30" y="412.00" textLength="63.70" lengthAdjust="spacingAndGlyphs" font-size="18.30" fill="#fff" font-weight="bold" word-spacing="0.00">Drivers</text>
<text x="762.20" y="107.70" textLength="27.50" lengthAdjust="spacingAndGlyphs" font-size="18.30" fill="#fff" font-weight="bold" word-spacing="0.00">03.</text>
<text x="795.30" y="107.70" textLength="63.70" lengthAdjust="spacingAndGlyphs" font-size="18.30" fill="#fff" font-weight="bold" word-spacing="0.00">Drivers</text>
<text x="762.20" y="412.00" textLength="27.50" lengthAdjust="spacingAndGlyphs" font-size="18.30" fill="#fff" font-weight="bold" word-spacing="0.00">04.</text>
<text x="795.30" y="412.00" textLength="63.70" lengthAdjust="spacingAndGlyphs" font-size="18.30" fill="#fff" font-weight="bold" word-spacing="0.00">Drivers</text>
<text x="127.30" y="151.30" textLength="237.90" lengthAdjust="spacingAndGlyphs" font-size="10.90" fill="#2b2b2b" font-weight="normal" word-spacing="-0.90" stroke="#2b2b2b" stroke-width="0.25">Increasing demand for personal hygiene and</text>
<text x="127.30" y="166.70" textLength="237.90" lengthAdjust="spacingAndGlyphs" font-size="10.90" fill="#2b2b2b" font-weight="normal" word-spacing="-0.90" stroke="#2b2b2b" stroke-width="0.25">rising preference of chemical free product in</text>
<text x="127.30" y="182.30" textLength="236.90" lengthAdjust="spacingAndGlyphs" font-size="10.90" fill="#2b2b2b" font-weight="normal" word-spacing="-0.90" stroke="#2b2b2b" stroke-width="0.25">beauty and hygiene drives the growth of the</text>
<text x="128.30" y="197.60" textLength="134.50" lengthAdjust="spacingAndGlyphs" font-size="10.90" fill="#2b2b2b" font-weight="normal" word-spacing="-0.90" stroke="#2b2b2b" stroke-width="0.25">organic shampoo market.</text>
<text x="122.70" y="459.90" textLength="256.20" lengthAdjust="spacingAndGlyphs" font-size="10.90" fill="#2b2b2b" font-weight="normal" word-spacing="-0.90" stroke="#2b2b2b" stroke-width="0.25">A rapid growth in organic shampoo is because of</text>
<text x="122.70" y="475.50" textLength="238.50" lengthAdjust="spacingAndGlyphs" font-size="10.90" fill="#2b2b2b" font-weight="normal" word-spacing="-0.90" stroke="#2b2b2b" stroke-width="0.25">growing demand of natural product in young</text>
<text x="122.70" y="491.80" textLength="222.90" lengthAdjust="spacingAndGlyphs" font-size="10.90" fill="#2b2b2b" font-weight="normal" word-spacing="-0.90" stroke="#2b2b2b" stroke-width="0.25">generation. Now a days the percentage of</text>
<text x="122.70" y="507.10" textLength="265.30" lengthAdjust="spacingAndGlyphs" font-size="10.90" fill="#2b2b2b" font-weight="normal" word-spacing="-0.90" stroke="#2b2b2b" stroke-width="0.25">younger people as compare to other generation is</text>
<text x="121.70" y="522.40" textLength="28.10" lengthAdjust="spacingAndGlyphs" font-size="10.90" fill="#2b2b2b" font-weight="normal" word-spacing="-0.90" stroke="#2b2b2b" stroke-width="0.25">high.</text>
<text x="766.70" y="151.30" textLength="253.00" lengthAdjust="spacingAndGlyphs" font-size="10.90" fill="#2b2b2b" font-weight="normal" word-spacing="-0.90" stroke="#2b2b2b" stroke-width="0.25">In ancient time people used natural extract and</text>
<text x="767.70" y="166.70" textLength="284.50" lengthAdjust="spacingAndGlyphs" font-size="10.90" fill="#2b2b2b" font-weight="normal" word-spacing="-0.90" stroke="#2b2b2b" stroke-width="0.25">resources for their healthcare and cosmetic purposes</text>
<text x="767.70" y="182.30" textLength="243.60" lengthAdjust="spacingAndGlyphs" font-size="10.90" fill="#2b2b2b" font-weight="normal" word-spacing="-0.90" stroke="#2b2b2b" stroke-width="0.25">and now people prefer herbal ingredient over</text>
<text x="767.70" y="198.00" textLength="167.80" lengthAdjust="spacingAndGlyphs" font-size="10.90" fill="#2b2b2b" font-weight="normal" word-spacing="-0.90" stroke="#2b2b2b" stroke-width="0.25">synthetic or chemical products.</text>
<text x="766.70" y="464.70" textLength="308.80" lengthAdjust="spacingAndGlyphs" font-size="10.90" fill="#2b2b2b" font-weight="normal" word-spacing="-0.90" stroke="#2b2b2b" stroke-width="0.25">North America is expected to dominate the market due to</text>
<text x="767.70" y="479.70" textLength="292.30" lengthAdjust="spacingAndGlyphs" font-size="10.90" fill="#2b2b2b" font-weight="normal" word-spacing="-0.90" stroke="#2b2b2b" stroke-width="0.25">increasing awareness about skin and hair nourishment.</text>
<text x="766.70" y="495.80" textLength="287.80" lengthAdjust="spacingAndGlyphs" font-size="10.90" fill="#2b2b2b" font-weight="normal" word-spacing="-0.90" stroke="#2b2b2b" stroke-width="0.25">North America had the highest share of 34.8%  in 2018,</text>
<text x="767.70" y="511.30" textLength="306.10" lengthAdjust="spacingAndGlyphs" font-size="10.90" fill="#2b2b2b" font-weight="normal" word-spacing="-0.90" stroke="#2b2b2b" stroke-width="0.25">after North America Europe have the highest share that is</text>
<text x="767.70" y="527.10" textLength="167.80" lengthAdjust="spacingAndGlyphs" font-size="10.90" fill="#2b2b2b" font-weight="normal" word-spacing="-0.90" stroke="#2b2b2b" stroke-width="0.25">24.9%  over the global revenue.</text>
</svg>
</body></html>
